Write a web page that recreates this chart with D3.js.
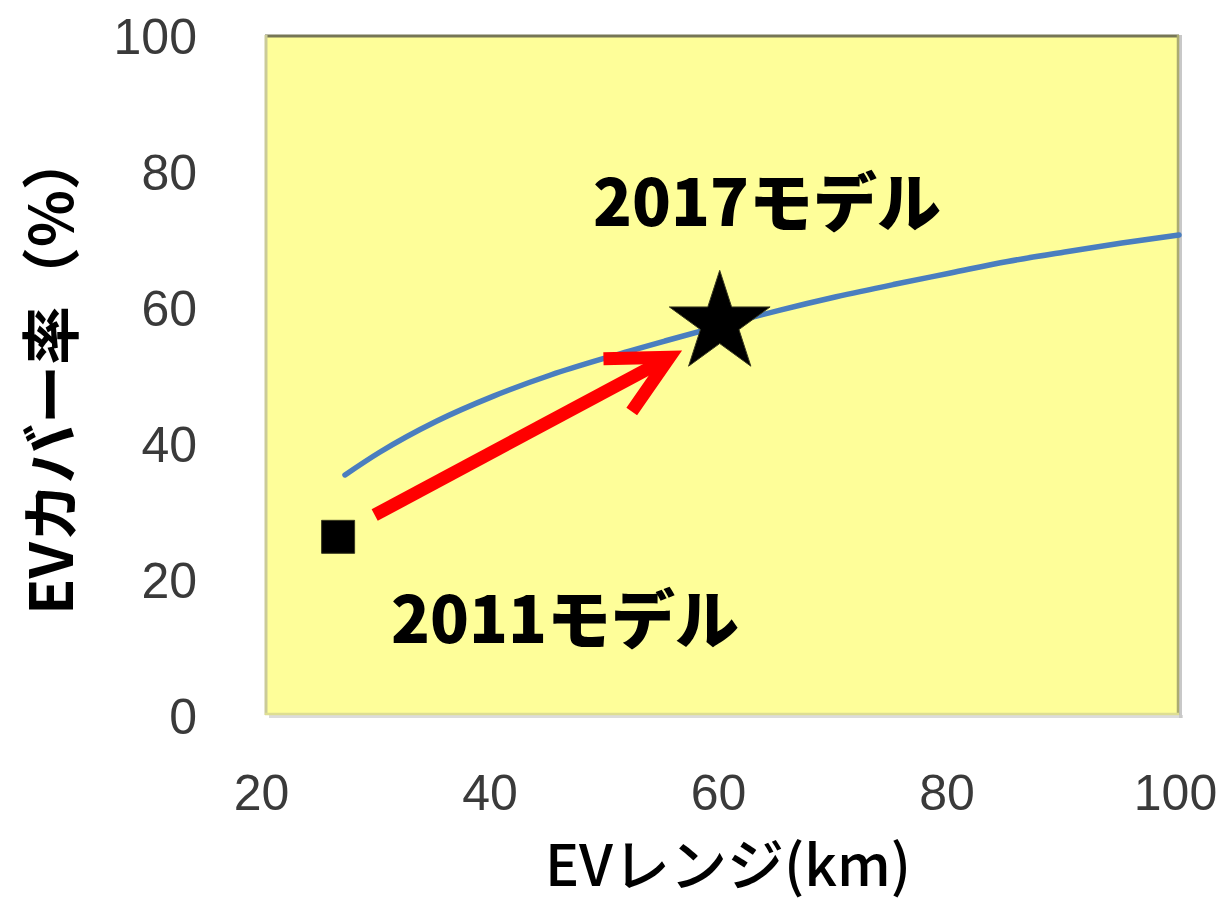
<!DOCTYPE html>
<html>
<head>
<meta charset="utf-8">
<script src="https://cdn.jsdelivr.net/npm/d3@7"></script>
<style>
  html, body { margin: 0; padding: 0; background: #ffffff; }
  svg { display: block; }
</style>
</head>
<body>
<svg id="chart" width="1220" height="904"></svg>
<script>
// EV range (km) vs. coverage rate (%)
const rangeKm    = [27, 30, 35, 40, 45, 50, 55, 60, 65, 70, 75, 80, 85, 90, 95, 100];
const coverage   = [35.3, 38.6, 43.2, 46.9, 50.0, 52.6, 55.0, 57.3, 59.5, 61.5, 63.3, 65.0, 66.7, 68.1, 69.4, 70.6];

const models      = ["2011モデル", "2017モデル"];
const modelRange  = [26.4, 59.8];
const modelCover  = [26.2, 57.6];

const xTicks = [20, 40, 60, 80, 100];
const yTicks = [0, 20, 40, 60, 80, 100];

const xTitle = "EVレンジ(km)";
const yTitle = "EVカバー率（%）";

const svg = d3.select("#chart");

const plotL = 265, plotR = 1179, plotT = 35, plotB = 715;
const x = d3.scaleLinear().domain([20, 100]).range([plotL, plotR]);
const y = d3.scaleLinear().domain([0, 100]).range([plotB, plotT]);

// plot area with bevelled edges
svg.append("rect")
  .attr("x", plotL + 4).attr("y", plotB).attr("width", plotR - plotL).attr("height", 3)
  .attr("fill", "#dcdcdc");
svg.append("rect")
  .attr("x", plotR).attr("y", plotT).attr("width", 3).attr("height", plotB - plotT + 3)
  .attr("fill", "#c8c8c8");
svg.append("rect")
  .attr("x", plotL).attr("y", plotT).attr("width", plotR - plotL).attr("height", plotB - plotT)
  .attr("fill", "#fefe99");
svg.append("line").attr("x1", plotL).attr("x2", plotR).attr("y1", plotT + 1).attr("y2", plotT + 1)
  .attr("stroke", "#767656").attr("stroke-width", 3);
svg.append("line").attr("x1", plotL + 1).attr("x2", plotL + 1).attr("y1", plotT).attr("y2", plotB)
  .attr("stroke", "#cbcb98").attr("stroke-width", 3);
svg.append("line").attr("x1", plotR - 1).attr("x2", plotR - 1).attr("y1", plotT).attr("y2", plotB)
  .attr("stroke", "#abab72").attr("stroke-width", 2.5);
svg.append("line").attr("x1", plotL).attr("x2", plotR).attr("y1", plotB - 1).attr("y2", plotB - 1)
  .attr("stroke", "#dede92").attr("stroke-width", 2.5);

const tickFont = "'Liberation Sans', Arial, sans-serif";

// y axis
const yAxis = d3.axisLeft(y).tickValues(yTicks).tickSize(0).tickPadding(0);
const gy = svg.append("g").attr("transform", `translate(197,0)`).call(yAxis);
gy.select(".domain").remove();
gy.selectAll("text")
  .attr("font-family", tickFont).attr("font-size", 50).attr("fill", "#3a3a3a")
  .attr("dy", "0.36em");

// x axis
const xAxis = d3.axisBottom(x).tickValues(xTicks).tickSize(0).tickPadding(0);
const gx = svg.append("g").attr("transform", `translate(-4,774)`).call(xAxis);
gx.select(".domain").remove();
gx.selectAll("text")
  .attr("font-family", tickFont).attr("font-size", 50).attr("fill", "#3a3a3a")
  .attr("dy", "0.71em");

// coverage curve
const line = d3.line().x((d, i) => x(rangeKm[i])).y(d => y(d)).curve(d3.curveMonotoneX);
svg.append("path")
  .attr("d", line(coverage))
  .attr("fill", "none").attr("stroke", "#4a7ebf").attr("stroke-width", 5.5)
  .attr("stroke-linecap", "round");

// arrow from the 2011 model toward the 2017 model
const arrowFrom = [29.6, 29.4];
const arrowTo   = [55.4, 52.6];
const ax0 = x(arrowFrom[0]), ay0 = y(arrowFrom[1]);
const ax1 = x(arrowTo[0]),   ay1 = y(arrowTo[1]);
const ang = Math.atan2(ay1 - ay0, ax1 - ax0);
const barb = 66, spread = 27 * Math.PI / 180;
const b1 = [ax1 - barb * Math.cos(ang - spread), ay1 - barb * Math.sin(ang - spread)];
const b2 = [ax1 - barb * Math.cos(ang + spread), ay1 - barb * Math.sin(ang + spread)];
svg.append("path")
  .attr("d", `M${ax0},${ay0}L${ax1 - 4 * Math.cos(ang)},${ay1 - 4 * Math.sin(ang)}`)
  .attr("stroke", "#ff0000").attr("stroke-width", 13).attr("fill", "none");
svg.append("path")
  .attr("d", `M${b1[0]},${b1[1]}L${ax1},${ay1}L${b2[0]},${b2[1]}`)
  .attr("stroke", "#ff0000").attr("stroke-width", 13).attr("fill", "none")
  .attr("stroke-linejoin", "miter").attr("stroke-miterlimit", 10);

// model markers
svg.append("path")
  .attr("transform", `translate(${x(modelRange[0])},${y(modelCover[0])})`)
  .attr("d", d3.symbol(d3.symbolSquare, 33 * 33)())
  .attr("fill", "#000").attr("stroke", "#3a3a20").attr("stroke-width", 1);
svg.append("path")
  .attr("transform", `translate(${x(modelRange[1])},${y(modelCover[1])})`)
  .attr("d", d3.symbol(d3.symbolStar, 3150)())
  .attr("fill", "#000").attr("stroke", "#3a3a20").attr("stroke-width", 1);

// model labels
const labelFont = "'Noto Sans CJK JP', sans-serif";
svg.append("text")
  .attr("x", 767).attr("y", 198).attr("text-anchor", "middle").attr("dominant-baseline", "central")
  .attr("font-family", labelFont).attr("font-weight", 900).attr("font-size", 64)
  .attr("fill", "#000").text(models[1]);
svg.append("text")
  .attr("x", 565).attr("y", 615).attr("text-anchor", "middle").attr("dominant-baseline", "central")
  .attr("font-family", labelFont).attr("font-weight", 900).attr("font-size", 64)
  .attr("fill", "#000").text(models[0]);

// axis titles
svg.append("text")
  .attr("x", 728).attr("y", 861).attr("text-anchor", "middle").attr("dominant-baseline", "central")
  .attr("font-family", labelFont).attr("font-weight", 500).attr("font-size", 57)
  .attr("fill", "#000").text(xTitle);
svg.append("text")
  .attr("transform", "translate(47,373) rotate(-90)")
  .attr("text-anchor", "middle").attr("dominant-baseline", "central")
  .attr("font-family", labelFont).attr("font-weight", 700).attr("font-size", 59)
  .attr("fill", "#000").text(yTitle);
</script>
</body>
</html>
